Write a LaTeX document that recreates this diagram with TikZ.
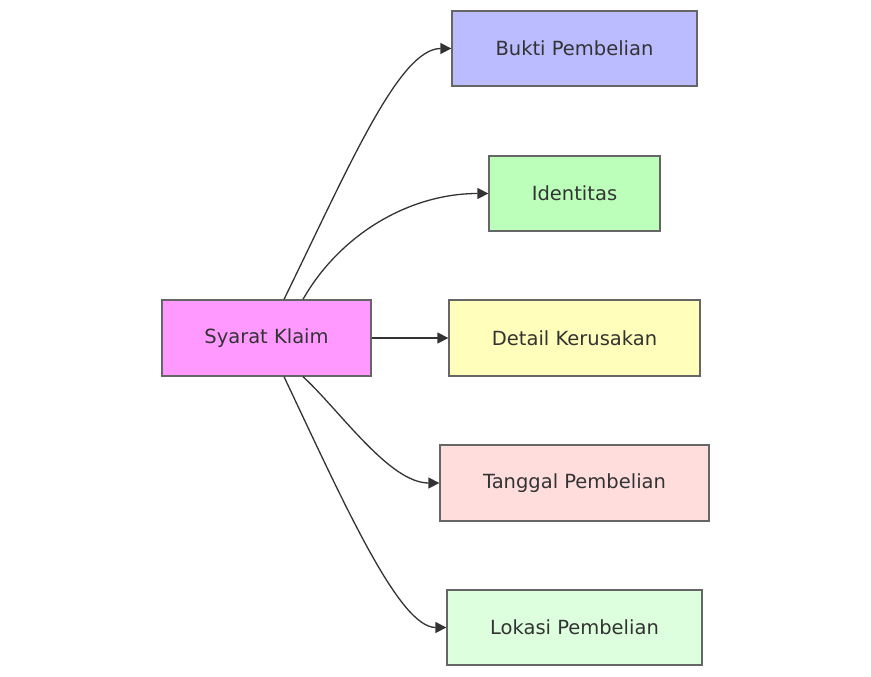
\documentclass[tikz,border=0pt]{standalone}
\usepackage{fontspec}
\setmainfont{DejaVu Sans}
\usetikzlibrary{arrows.meta,calc}
\definecolor{edgec}{HTML}{333333}
\definecolor{boxline}{HTML}{666666}
\definecolor{txt}{HTML}{333333}
\definecolor{cS}{HTML}{FF99FF}
\definecolor{cB}{HTML}{BBBBFF}
\definecolor{cI}{HTML}{BBFFBB}
\definecolor{cD}{HTML}{FFFFBB}
\definecolor{cT}{HTML}{FFDDDD}
\definecolor{cL}{HTML}{DDFFDD}
\tikzset{
  box/.style={draw=boxline, line width=1.3pt, rectangle, inner sep=0pt,
    text=txt, font=\fontsize{19.5}{23}\selectfont},
  link/.style={draw=edgec, line width=1.3pt,
    -{Triangle[length=11pt,width=11pt]}}
}
\begin{document}
\begin{tikzpicture}[x=1pt,y=-1pt]
\useasboundingbox (0,0) rectangle (871,677);
\node[box, fill=cS, minimum width=209pt, minimum height=76pt] (s) at (266.5,338) {Syarat Klaim};
\node[box, fill=cB, minimum width=245pt, minimum height=75pt] (b) at (574.5,48.5) {Bukti Pembelian};
\node[box, fill=cI, minimum width=171pt, minimum height=75pt] (i) at (574.5,193.5) {Identitas};
\node[box, fill=cD, minimum width=251pt, minimum height=76pt] (d) at (574.5,338) {Detail Kerusakan};
\node[box, fill=cT, minimum width=269pt, minimum height=76pt] (t) at (574.5,483) {Tanggal Pembelian};
\node[box, fill=cL, minimum width=255pt, minimum height=75pt] (l) at (574.5,627.5) {Lokasi Pembelian};
\coordinate (s1) at ($(s.north)+(17.5,0)$);
\coordinate (s2) at ($(s.north)+(36.5,0)$);
\coordinate (s3) at ($(s.south)+(36.5,0)$);
\coordinate (s4) at ($(s.south)+(17.5,0)$);
\draw[link] (s1) .. controls +(66,-135) and +(-52,0) .. (b.west);
\draw[link] (s2) .. controls +(37,-65) and +(-79,0) .. (i.west);
\draw[link] (s.east) -- (d.west);
\draw[link] (s3) .. controls +(37,34) and +(-50,0) .. (t.west);
\draw[link] (s4) .. controls +(61,129) and +(-47,0) .. (l.west);
\end{tikzpicture}
\end{document}
